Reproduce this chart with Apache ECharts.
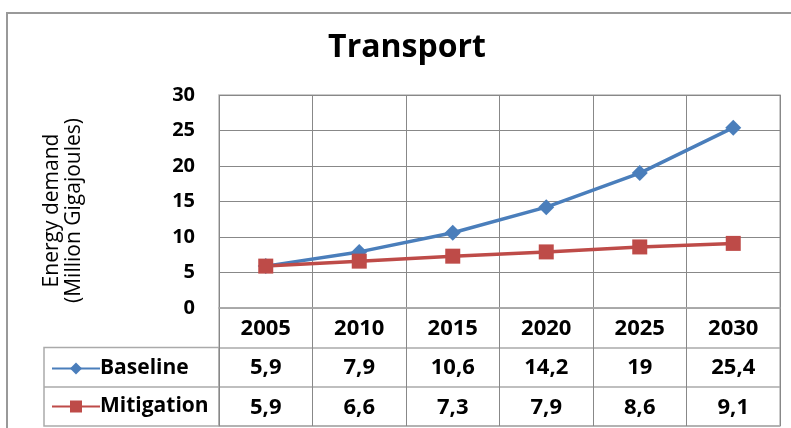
<!DOCTYPE html>
<html><head><meta charset="utf-8">
<script src="https://cdn.jsdelivr.net/npm/echarts@6/dist/echarts.min.js"></script>
<style>html,body{margin:0;padding:0;background:#fff}#c{width:791px;height:428px}</style>
</head><body><div id="c"></div>
<script>
const titleText = 'Transport';
const categories = ['2005','2010','2015','2020','2025','2030'];
const baseline = [5.9, 7.9, 10.6, 14.2, 19, 25.4];
const mitigation = [5.9, 6.6, 7.3, 7.9, 8.6, 9.1];
const seriesNames = ['Baseline','Mitigation'];
const yTicks = [0, 5, 10, 15, 20, 25, 30];
const tableRows = ['year', 'Baseline', 'Mitigation'];

const FONT = '"Open Sans", sans-serif';
const fmt = v => String(v).replace('.', ',');
const tableData = [];
categories.forEach((c, i) => {
  tableData.push([i, 0, c]);
  tableData.push([i, 1, fmt(baseline[i])]);
  tableData.push([i, 2, fmt(mitigation[i])]);
});
const legendText = {fontFamily: FONT, fontSize: 21, fontWeight: 'bold', color: '#000', padding: [0,0,0,-5]};

const chart = echarts.init(document.getElementById('c'));
chart.setOption({
  animation: false,
  backgroundColor: '#fff',
  title: {text: titleText, left: 402, textAlign: 'center', top: 27,
    textStyle: {fontFamily: FONT, fontSize: 32, fontWeight: 'bold', color: '#000'}},
  legend: [
    {left: 46, top: 353, itemWidth: 48, itemHeight: 15, data: [seriesNames[0]], textStyle: legendText},
    {left: 46, top: 391, itemWidth: 48, itemHeight: 15, data: [seriesNames[1]], textStyle: legendText}
  ],
  grid: [
    {left: 219, right: 11, top: 95, bottom: 120, show: true, borderColor: '#bbb', borderWidth: 1.5},
    {left: 219, right: 11, top: 308, height: 118, show: true, borderColor: '#bbb', borderWidth: 1.5}
  ],
  xAxis: [
    {type: 'category', gridIndex: 0, data: categories, boundaryGap: true,
     axisLine: {show: true, lineStyle: {color: '#aaa', width: 1.5}}, axisTick: {show: false}, axisLabel: {show: false},
     splitLine: {show: true, lineStyle: {color: '#888', width: 1}}},
    {type: 'category', gridIndex: 1, data: categories, boundaryGap: true,
     axisLine: {show: false}, axisTick: {show: false}, axisLabel: {show: false},
     splitLine: {show: true, lineStyle: {color: '#888', width: 1}}}
  ],
  yAxis: [
    {type: 'value', gridIndex: 0, min: yTicks[0], max: yTicks[yTicks.length-1], interval: 5,
     name: 'Energy demand\n(Million Gigajoules)', nameLocation: 'middle', nameGap: 134, nameRotate: 90,
     nameTextStyle: {fontFamily: FONT, fontSize: 21, color: '#000', lineHeight: 22, padding: [0, 18, 0, 0]},
     axisLine: {show: false}, axisTick: {show: false},
     axisLabel: {fontFamily: FONT, fontSize: 20, fontWeight: 'bold', color: '#000', margin: 24},
     splitLine: {show: true, lineStyle: {color: '#888', width: 1}}},
    {type: 'category', gridIndex: 1, data: tableRows, inverse: true, boundaryGap: true,
     axisLine: {show: false}, axisTick: {show: false}, axisLabel: {show: false},
     splitLine: {show: true, lineStyle: {color: '#aaa', width: 1.5}}}
  ],
  series: [
    {name: seriesNames[0], type: 'line', xAxisIndex: 0, yAxisIndex: 0, data: baseline,
     symbol: 'diamond', symbolSize: 16, color: '#4A7EBB',
     lineStyle: {width: 3.5, color: '#4A7EBB'}, itemStyle: {color: '#4A7EBB'}},
    {name: seriesNames[1], type: 'line', xAxisIndex: 0, yAxisIndex: 0, data: mitigation,
     symbol: 'rect', symbolSize: 15, color: '#BE4B48',
     lineStyle: {width: 3.5, color: '#BE4B48'}, itemStyle: {color: '#BE4B48'}},
    {type: 'custom', xAxisIndex: 1, yAxisIndex: 1, data: tableData, silent: true,
     encode: {x: 0, y: 1},
     renderItem: function (params, api) {
       const p = api.coord([api.value(0), api.value(1)]);
       return {type: 'text', x: p[0], y: p[1] + 1,
         style: {text: tableData[params.dataIndex][2], fontFamily: FONT, fontSize: 22, fontWeight: 'bold',
           fill: '#000', align: 'center', verticalAlign: 'middle'}};
     }}
  ],
  graphic: [
    {type: 'rect', shape: {x: 7, y: 13, width: 800, height: 430}, style: {fill: null, stroke: '#999', lineWidth: 2}, silent: true, z: -1},
    {type: 'rect', shape: {x: 44, y: 347.5, width: 175, height: 78.5}, style: {fill: null, stroke: '#aaa', lineWidth: 1.5}, silent: true},
    {type: 'line', shape: {x1: 44, y1: 387, x2: 219, y2: 387}, style: {stroke: '#aaa', lineWidth: 1.5}, silent: true}
  ]
});
</script></body></html>
